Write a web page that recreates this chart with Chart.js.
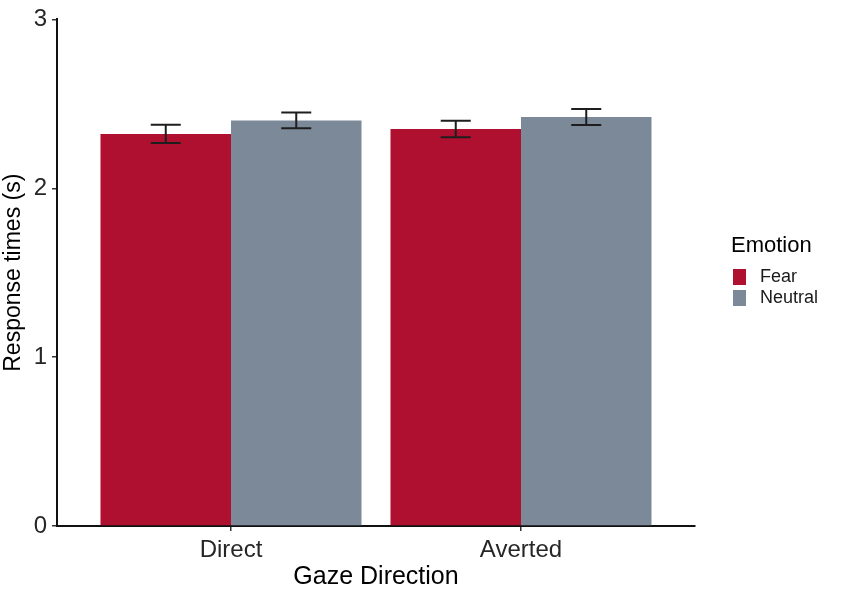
<!DOCTYPE html>
<html>
<head>
<meta charset="utf-8">
<script src="https://cdn.jsdelivr.net/npm/chart.js@4.4.1/dist/chart.umd.min.js"></script>
<style>
	html, body { margin: 0; padding: 0; background: #fff; }
	#wrap { width: 842px; height: 592px; }
</style>
</head>
<body>
<div id="wrap"><canvas id="chart-rt" width="842" height="592"></canvas></div>
<script>
// data
const gazeLabels = ['Direct', 'Averted'];
const gazePos = [1, 2];
const emotions = ['Fear', 'Neutral'];
const fearMean = [2.322, 2.351];
const fearSe = [0.054, 0.049];
const neutralMean = [2.402, 2.422];
const neutralSe = [0.046, 0.048];
const yTicks = [0, 1, 2, 3];

const colors = ['#af1030', '#7c8999'];
const fontFamily = "'Liberation Sans', Arial, Helvetica, sans-serif";

function toPoints(means) {
	return gazePos.map((x, i) => ({ x: x, y: means[i] }));
}

// error bars, drawn from the bar elements and the y scale
const errorBars = {
	id: 'errorBars',
	afterDatasetsDraw(chart) {
		const ctx = chart.ctx;
		const yScale = chart.scales.y;
		ctx.save();
		ctx.strokeStyle = '#1e1e1e';
		ctx.lineWidth = 2;
		chart.data.datasets.forEach((ds, d) => {
			const meta = chart.getDatasetMeta(d);
			meta.data.forEach((bar, i) => {
				const m = ds.data[i].y, se = ds.se[i];
				const yHi = yScale.getPixelForValue(m + se);
				const yLo = yScale.getPixelForValue(m - se);
				const half = bar.width * 0.115;
				ctx.beginPath();
				ctx.moveTo(bar.x, yHi); ctx.lineTo(bar.x, yLo);
				ctx.moveTo(bar.x - half, yHi); ctx.lineTo(bar.x + half, yHi);
				ctx.moveTo(bar.x - half, yLo); ctx.lineTo(bar.x + half, yLo);
				ctx.stroke();
			});
		});
		ctx.restore();
	}
};

// ggplot style legend on the right
const sideLegend = {
	id: 'sideLegend',
	afterDraw(chart) {
		const ctx = chart.ctx;
		const x0 = chart.chartArea.right + 38;
		ctx.save();
		ctx.fillStyle = '#000';
		ctx.textBaseline = 'middle';
		ctx.textAlign = 'left';
		ctx.font = '22px ' + fontFamily;
		ctx.fillText('Emotion', x0 - 2, 246);
		ctx.font = '18px ' + fontFamily;
		chart.data.datasets.forEach((ds, d) => {
			const y = 269 + d * 21;
			ctx.fillStyle = ds.backgroundColor;
			ctx.fillRect(x0, y, 13, 16);
			ctx.fillStyle = '#1a1a1a';
			ctx.fillText(ds.label, x0 + 27, y + 8.5);
		});
		ctx.restore();
	}
};

const ctx = document.getElementById('chart-rt').getContext('2d');
const chartRT = new Chart(ctx, {
	type: 'bar',
	data: {
		datasets: [
			{ label: emotions[0], data: toPoints(fearMean), se: fearSe, backgroundColor: colors[0], borderWidth: 0 },
			{ label: emotions[1], data: toPoints(neutralMean), se: neutralSe, backgroundColor: colors[1], borderWidth: 0 }
		]
	},
	options: {
		responsive: false,
		animation: false,
		devicePixelRatio: 1,
		layout: { padding: { top: 17, right: 147, left: 0, bottom: 0 } },
		datasets: { bar: { categoryPercentage: 0.9, barPercentage: 1.0 } },
		plugins: {
			legend: { display: false },
			tooltip: { enabled: false }
		},
		scales: {
			x: {
				type: 'linear',
				min: 0.4,
				max: 2.6,
				offset: false,
				afterBuildTicks: (scale) => { scale.ticks = gazePos.map(v => ({ value: v })); },
				afterFit: (scale) => { scale.height = 66; },
				border: { display: true, color: '#111', width: 2 },
				grid: { display: true, offset: false, drawOnChartArea: false, drawTicks: true, tickLength: 5, color: '#333', lineWidth: 1.5 },
				ticks: {
					autoSkip: false,
					maxRotation: 0,
					padding: 5,
					color: '#262626',
					font: { family: fontFamily, size: 24 },
					callback: (v) => gazeLabels[gazePos.indexOf(v)]
				},
				title: {
					display: true,
					text: 'Gaze Direction',
					color: '#000',
					padding: 0,
					font: { family: fontFamily, size: 25 }
				}
			},
			y: {
				min: 0,
				max: 3,
				afterBuildTicks: (scale) => { scale.ticks = yTicks.map(v => ({ value: v })); },
				afterFit: (scale) => { scale.width = 57; },
				border: { display: true, color: '#111', width: 2 },
				grid: { display: true, drawOnChartArea: false, drawTicks: true, tickLength: 5, color: '#333', lineWidth: 1.5 },
				ticks: {
					padding: 5,
					color: '#262626',
					font: { family: fontFamily, size: 24 }
				},
				title: {
					display: true,
					text: 'Response times (s)',
					color: '#000',
					padding: 0,
					font: { family: fontFamily, size: 23 }
				}
			}
		}
	},
	plugins: [errorBars, sideLegend]
});
</script>
</body>
</html>
